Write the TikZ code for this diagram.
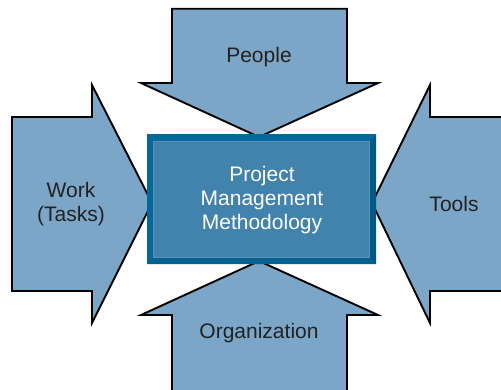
\documentclass[tikz,border=0pt]{standalone}
\usepackage{fontspec}
\setmainfont{Liberation Sans}
\definecolor{arrowfill}{HTML}{7BA6C7}
\definecolor{frameA}{HTML}{02699A}
\definecolor{frameB}{HTML}{005A84}
\definecolor{frameC}{HTML}{03638F}
\definecolor{innerfill}{HTML}{4283AE}
\definecolor{innerline}{HTML}{5A93BA}
\definecolor{labeltext}{HTML}{222222}
\begin{document}
\begin{tikzpicture}[x=1pt,y=-1pt,
  bigarrow/.style={fill=arrowfill,draw=black,line width=1.9pt,line join=miter,miter limit=10},
  armlabel/.style={text=labeltext,font=\fontsize{21}{23.7}\selectfont,align=center,inner sep=0pt},
  centerlabel/.style={text=white,font=\fontsize{21}{23.7}\selectfont,align=center,inner sep=0pt}]
\useasboundingbox (0,0) rectangle (501,389);
\clip (0,0) rectangle (501,389);
% People (top, pointing down)
\draw[bigarrow] (172,8.7) -- (347,8.7) -- (347,83) -- (378,83) -- (259,137) -- (141,83) -- (172,83) -- cycle;
% Organization (bottom, pointing up)
\draw[bigarrow] (172,400) -- (172,315) -- (141,315) -- (259,261) -- (378,315) -- (347,315) -- (347,400);
\fill[arrowfill] (173,316) rectangle (346,395);
% Work (left, pointing right)
\draw[bigarrow] (12,117) -- (92,117) -- (92,85) -- (152,203) -- (92,323) -- (92,291) -- (12,291) -- cycle;
% Tools (right, pointing left)
\draw[bigarrow] (510,117) -- (430,117) -- (430,85) -- (372,203) -- (430,323) -- (430,291) -- (510,291);
% Center box with bevel
\fill[frameA] (147,134) rectangle (376,264);
\fill[frameB] (376,134) -- (370,141) -- (370,258) -- (376,264) -- cycle;
\fill[frameC] (147,264) -- (153,258) -- (370,258) -- (376,264) -- cycle;
\fill[innerfill] (153,141) rectangle (370,258);
\draw[innerline,line width=0.6pt] (153.3,141.3) rectangle (369.7,257.7);
% Labels
\node[armlabel] (people) at (259,57) {People};
\node[armlabel] (org) at (259,333) {Organization};
\node[armlabel] (work) at (71,204) {Work\\(Tasks)};
\node[armlabel] (tools) at (454,204) {Tools};
\node[centerlabel] (pmm) at (262,200) {Project\\Management\\Methodology};
\end{tikzpicture}
\end{document}
